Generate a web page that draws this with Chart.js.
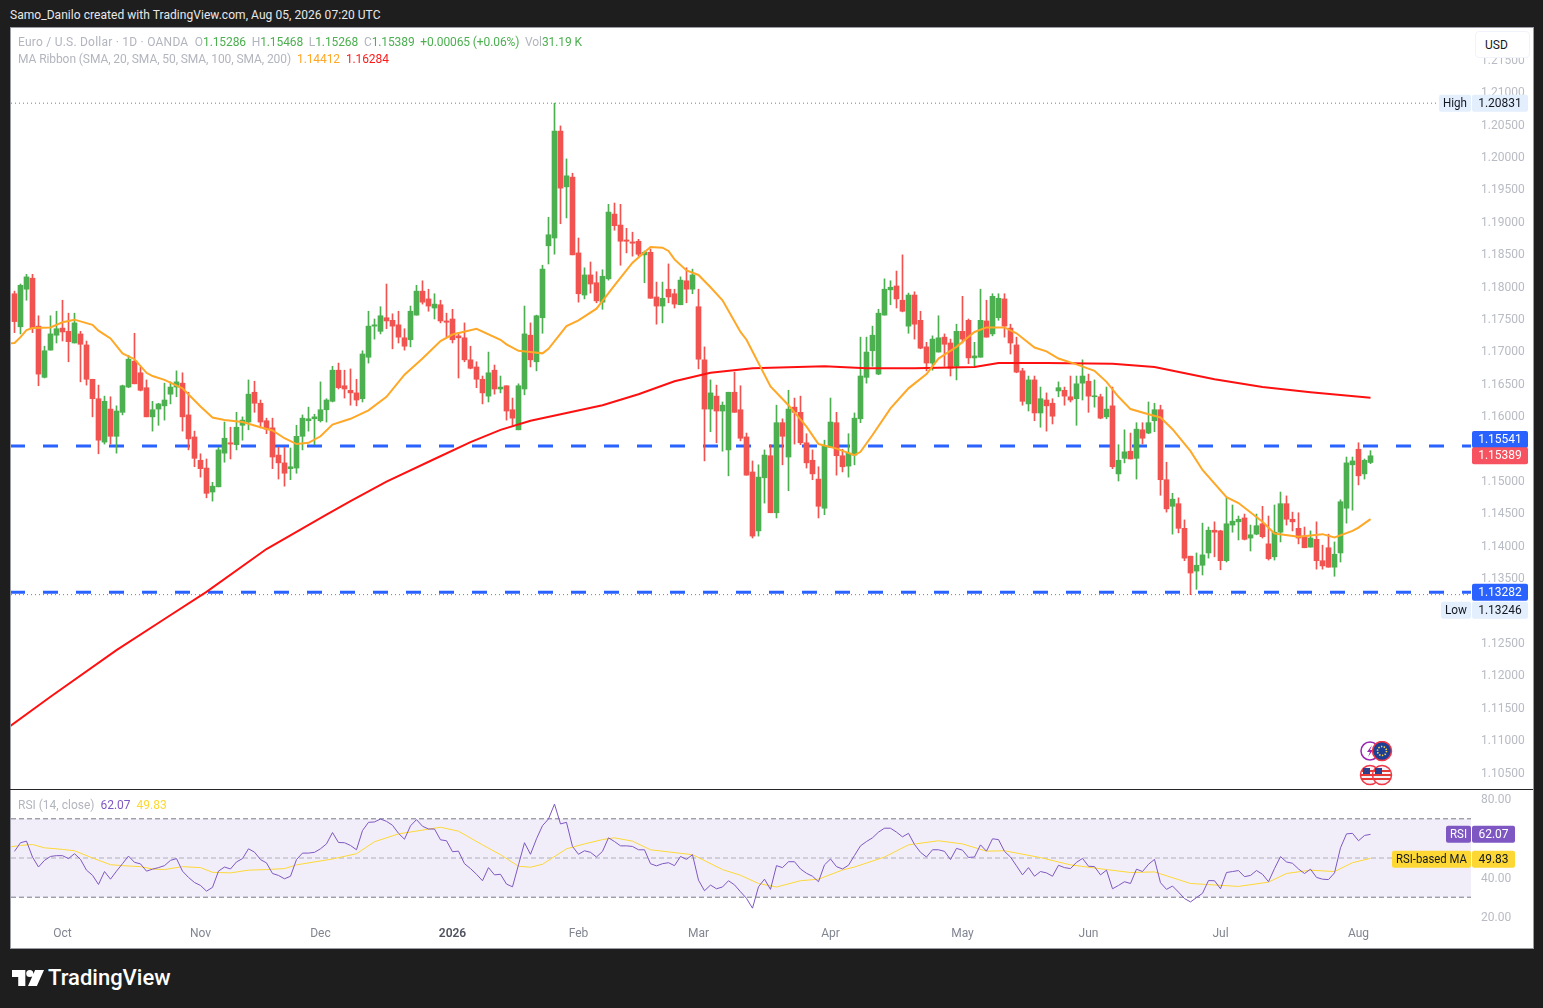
<!DOCTYPE html>
<html>
<head>
<meta charset="utf-8">
<title>EUR/USD</title>
<script src="https://cdn.jsdelivr.net/npm/chart.js"></script>
<style>
html, body { margin: 0; padding: 0; background: #1e1e1e; width: 1543px; height: 1008px; overflow: hidden; font-family: Roboto, sans-serif; font-size: 12px; }
#panel { position: absolute; left: 10px; top: 27px; width: 1522px; height: 920px; background: #fff; border: 1px solid #9a9da6; box-sizing: content-box; }
#divider { position: absolute; left: 10px; top: 789px; width: 1523px; height: 1px; background: #26262a; }
canvas { position: absolute; display: block; }
.txt { position: absolute; white-space: pre; line-height: 16px; }
.g { color: #4caf50; } .m { color: #b2b5be; }
#usd { position: absolute; left: 1475px; top: 31px; width: 53px; height: 25px; border: 1px solid #f0f3fa; border-radius: 4px; background: #fff; color: #131722; line-height: 26px; text-indent: 9px; box-sizing: content-box; }
.ev { position: absolute; }
</style>
</head>
<body>
<div id="panel"></div>
<canvas id="price" width="1521" height="761" style="left:11px;top:28px"></canvas>
<canvas id="rsi" width="1521" height="157" style="left:11px;top:790px"></canvas>
<div id="divider"></div>

<div class="txt" style="left:10px;top:7px;color:#e8e8e8;letter-spacing:0.05px">Samo_Danilo created with TradingView.com, Aug 05, 2026 07:20 UTC</div>
<div class="txt m" style="left:18px;top:34px"><span style="letter-spacing:0.23px">Euro / U.S. Dollar · 1D · OANDA  </span><span style="letter-spacing:-0.1px">O<span class="g">1.15286</span>  H<span class="g">1.15468</span>  L<span class="g">1.15268</span>  C<span class="g">1.15389</span>  <span class="g">+0.00065 (+0.06%)</span>  Vol<span class="g">31.19 K</span></span></div>
<div class="txt m" style="left:18px;top:51px"><span style="letter-spacing:-0.08px">MA Ribbon (SMA, 20, SMA, 50, SMA, 100, SMA, 200)</span>  <span style="color:#ffa726;letter-spacing:-0.1px">1.14412</span>  <span style="color:#ff1a1a;letter-spacing:-0.1px">1.16284</span></div>
<div class="txt m" style="left:18px;top:797px">RSI (14, close)  <span style="color:#7e57c2">62.07</span>  <span style="color:#fdd835">49.83</span></div>
<div id="usd">USD</div>

<svg class="ev" style="left:1359px;top:741px" width="36" height="46" viewBox="0 0 36 46">
  <circle cx="11" cy="10" r="9" fill="#fff" stroke="#9c27b0" stroke-width="1.5"/>
  <path d="M13 4 L8 11 L11 11 L9 16 L14 9 L11 9 Z" fill="#9c27b0"/>
  <circle cx="23" cy="10" r="9.5" fill="#1d3f94" stroke="#f23645" stroke-width="1.5"/>
  <circle cx="23" cy="10" r="4.5" fill="none" stroke="#ffd54f" stroke-width="1.6" stroke-dasharray="1.4 1.4"/>
  <circle cx="11" cy="34" r="9.5" fill="#f4f4f8" stroke="#f23645" stroke-width="1.5"/>
  <path d="M3 30 H19 M2 34 H20 M3 38 H19" stroke="#e53935" stroke-width="2"/>
  <rect x="4" y="27" width="7" height="6" fill="#2b3f8c"/>
  <circle cx="23" cy="34" r="9.5" fill="#f4f4f8" stroke="#f23645" stroke-width="1.5"/>
  <path d="M15 30 H31 M14 34 H32 M15 38 H31" stroke="#e53935" stroke-width="2"/>
  <rect x="16" y="27" width="7" height="6" fill="#2b3f8c"/>
</svg>

<svg class="ev" style="left:12px;top:970px" width="32" height="16" viewBox="0 0 36 18">
  <path d="M0 0 H15 V18 H7 V8 H0 Z M20 0 A4 4 0 1 1 20 8 A4 4 0 1 1 20 0 Z M26 0 H36 L28 18 H18 Z" fill="#fff"/>
</svg>
<div class="txt" style="left:48px;top:967px;font-size:22px;line-height:22px;font-weight:500;color:#fff">TradingView</div>

<script>
var opens = [
1.1789,1.1738,1.1796,1.1813,1.1739,1.1660,1.1702,1.1725,1.1736,1.1731,
1.1713,1.1727,1.1710,1.1657,1.1627,1.1560,1.1611,1.1569,1.1606,1.1645,
1.1685,1.1667,1.1644,1.1599,1.1611,1.1616,1.1634,1.1645,1.1651,1.1602,
1.1568,1.1532,1.1520,1.1483,1.1491,1.1543,1.1559,1.1556,1.1586,1.1591,
1.1637,1.1620,1.1593,1.1582,1.1540,1.1528,1.1519,1.1520,1.1569,1.1593,
1.1596,1.1593,1.1610,1.1623,1.1671,1.1647,1.1640,1.1636,1.1627,1.1691,
1.1739,1.1731,1.1752,1.1748,1.1741,1.1721,1.1718,1.1756,1.1793,1.1781,
1.1767,1.1772,1.1747,1.1750,1.1724,1.1721,1.1687,1.1676,1.1657,1.1631,
1.1671,1.1642,1.1647,1.1610,1.1579,1.1642,1.1725,1.1684,1.1752,1.1863,
1.1875,1.2040,1.1954,1.1969,1.1852,1.1787,1.1818,1.1806,1.1776,1.1812,
1.1912,1.1895,1.1872,1.1869,1.1870,1.1849,1.1853,1.1784,1.1770,1.1796,
1.1789,1.1772,1.1809,1.1796,1.1769,1.1687,1.1611,1.1631,1.1608,1.1548,
1.1637,1.1610,1.1568,1.1514,1.1423,1.1505,1.1539,1.1451,1.1590,1.1537,
1.1614,1.1606,1.1559,1.1532,1.1503,1.1458,1.1552,1.1590,1.1539,1.1523,
1.1540,1.1596,1.1660,1.1701,1.1665,1.1756,1.1795,1.1801,1.1779,1.1739,
1.1787,1.1748,1.1707,1.1682,1.1699,1.1722,1.1713,1.1677,1.1731,1.1748,
1.1690,1.1691,1.1747,1.1727,1.1752,1.1781,1.1736,1.1710,1.1670,1.1619,
1.1656,1.1605,1.1625,1.1620,1.1639,1.1640,1.1630,1.1627,1.1651,1.1654,
1.1630,1.1630,1.1599,1.1616,1.1511,1.1535,1.1546,1.1535,1.1579,1.1574,
1.1593,1.1610,1.1502,1.1461,1.1465,1.1427,1.1384,1.1361,1.1370,1.1389,
1.1424,1.1423,1.1377,1.1432,1.1437,1.1443,1.1412,1.1418,1.1434,1.1403,
1.1383,1.1421,1.1465,1.1441,1.1427,1.1415,1.1398,1.1410,1.1377,1.1397,
1.1367,1.1389,1.1458,1.1525,1.1549,1.1511,1.15286];

var highs = [
1.1793,1.1804,1.1819,1.1819,1.1755,1.1708,1.1755,1.1762,1.1779,1.1759,
1.1759,1.1731,1.1716,1.1657,1.1648,1.1631,1.1630,1.1616,1.1648,1.1694,
1.1728,1.1676,1.1656,1.1623,1.1620,1.1651,1.1653,1.1670,1.1667,1.1637,
1.1577,1.1542,1.1534,1.1498,1.1552,1.1591,1.1583,1.1606,1.1599,1.1656,
1.1654,1.1625,1.1597,1.1597,1.1552,1.1552,1.1551,1.1586,1.1602,1.1614,
1.1603,1.1653,1.1627,1.1677,1.1682,1.1671,1.1673,1.1657,1.1701,1.1762,
1.1750,1.1769,1.1804,1.1758,1.1762,1.1735,1.1770,1.1802,1.1809,1.1796,
1.1789,1.1779,1.1759,1.1765,1.1729,1.1744,1.1708,1.1684,1.1662,1.1699,
1.1679,1.1662,1.1647,1.1628,1.1650,1.1770,1.1744,1.1756,1.1833,1.1907,
1.20831,1.2048,1.1997,1.1975,1.1875,1.1829,1.1838,1.1823,1.1826,1.1927,
1.1929,1.1927,1.1890,1.1884,1.1873,1.1855,1.1858,1.1807,1.1807,1.1835,
1.1796,1.1815,1.1829,1.1827,1.1796,1.1707,1.1656,1.1648,1.1622,1.1637,
1.1668,1.1647,1.1574,1.1531,1.1525,1.1548,1.1556,1.1617,1.1596,1.1640,
1.1628,1.1631,1.1573,1.1548,1.1522,1.1563,1.1628,1.1606,1.1549,1.1573,
1.1605,1.1722,1.1722,1.1739,1.1765,1.1812,1.1809,1.1824,1.1849,1.1790,
1.1792,1.1762,1.1714,1.1724,1.1755,1.1727,1.1719,1.1742,1.1785,1.1750,
1.1714,1.1796,1.1779,1.1789,1.1789,1.1789,1.1742,1.1722,1.1674,1.1662,
1.1662,1.1645,1.1636,1.1627,1.1653,1.1645,1.1662,1.1662,1.1687,1.1665,
1.1656,1.1634,1.1645,1.1645,1.1556,1.1579,1.1574,1.1590,1.1590,1.1622,
1.1620,1.1617,1.1529,1.1481,1.1474,1.1440,1.1384,1.1389,1.1435,1.1429,
1.1437,1.1424,1.1474,1.1463,1.1446,1.1449,1.1432,1.1449,1.1461,1.1446,
1.1463,1.1483,1.1477,1.1452,1.1451,1.1429,1.1423,1.1437,1.1401,1.1418,
1.1406,1.1471,1.1537,1.1537,1.1559,1.1534,1.15468];

var lows = [
1.1729,1.1727,1.1779,1.1729,1.1647,1.1659,1.1702,1.1713,1.1716,1.1684,
1.1713,1.1653,1.1648,1.1599,1.1542,1.1557,1.1557,1.1543,1.1602,1.1644,
1.1650,1.1639,1.1599,1.1577,1.1586,1.1594,1.1619,1.1630,1.1577,1.1548,
1.1522,1.1506,1.1474,1.1469,1.1491,1.1529,1.1534,1.1548,1.1563,1.1579,
1.1606,1.1582,1.1573,1.1519,1.1503,1.1492,1.1502,1.1512,1.1548,1.1577,
1.1556,1.1591,1.1591,1.1622,1.1642,1.1628,1.1617,1.1616,1.1622,1.1682,
1.1719,1.1727,1.1735,1.1704,1.1713,1.1702,1.1707,1.1756,1.1773,1.1762,
1.1750,1.1744,1.1722,1.1713,1.1659,1.1684,1.1673,1.1644,1.1619,1.1622,
1.1634,1.1636,1.1594,1.1586,1.1579,1.1633,1.1676,1.1670,1.1728,1.1835,
1.1850,1.1897,1.1906,1.1849,1.1776,1.1781,1.1790,1.1775,1.1765,1.1810,
1.1887,1.1833,1.1852,1.1847,1.1847,1.1806,1.1782,1.1742,1.1744,1.1775,
1.1767,1.1772,1.1775,1.1789,1.1673,1.1531,1.1576,1.1559,1.1546,1.1508,
1.1606,1.1562,1.1509,1.1412,1.1415,1.1466,1.1451,1.1443,1.1525,1.1485,
1.1557,1.1556,1.1520,1.1502,1.1443,1.1448,1.1552,1.1509,1.1514,1.1506,
1.1525,1.1590,1.1651,1.1677,1.1664,1.1756,1.1772,1.1767,1.1761,1.1728,
1.1719,1.1704,1.1670,1.1671,1.1699,1.1677,1.1662,1.1656,1.1713,1.1681,
1.1677,1.1691,1.1722,1.1724,1.1748,1.1722,1.1696,1.1667,1.1617,1.1608,
1.1593,1.1583,1.1577,1.1588,1.1630,1.1617,1.1622,1.1586,1.1625,1.1606,
1.1614,1.1596,1.1596,1.1519,1.1500,1.1528,1.1534,1.1503,1.1557,1.1573,
1.1576,1.1478,1.1452,1.1418,1.1420,1.1377,1.13246,1.1333,1.1355,1.1381,
1.1383,1.1363,1.1375,1.1421,1.1409,1.1409,1.1392,1.1417,1.1412,1.1378,
1.1378,1.1406,1.1432,1.1423,1.1403,1.1397,1.1398,1.1364,1.1364,1.1367,
1.1353,1.1375,1.1435,1.1455,1.1494,1.1503,1.15268];

var closes = [
1.1746,1.1802,1.1815,1.1736,1.1665,1.1701,1.1727,1.1735,1.1730,1.1715,
1.1744,1.1711,1.1657,1.1627,1.1563,1.1623,1.1569,1.1608,1.1647,1.1688,
1.1650,1.1640,1.1599,1.1610,1.1619,1.1625,1.1645,1.1653,1.1599,1.1565,
1.1535,1.1519,1.1481,1.1492,1.1548,1.1566,1.1557,1.1583,1.1594,1.1634,
1.1620,1.1591,1.1580,1.1537,1.1528,1.1512,1.1522,1.1569,1.1597,1.1596,
1.1599,1.1610,1.1625,1.1671,1.1644,1.1642,1.1636,1.1625,1.1696,1.1739,
1.1741,1.1755,1.1747,1.1739,1.1722,1.1708,1.1762,1.1793,1.1776,1.1770,
1.1773,1.1747,1.1745,1.1718,1.1721,1.1687,1.1674,1.1657,1.1636,1.1667,
1.1642,1.1645,1.1608,1.1597,1.1647,1.1727,1.1687,1.1755,1.1827,1.1880,
1.2040,1.1952,1.1971,1.1849,1.1789,1.1818,1.1804,1.1778,1.1816,1.1915,
1.1894,1.1870,1.1870,1.1867,1.1850,1.1853,1.1782,1.1770,1.1782,1.1784,
1.1773,1.1810,1.1796,1.1818,1.1688,1.1611,1.1636,1.1608,1.1617,1.1637,
1.1606,1.1566,1.1509,1.1415,1.1506,1.1540,1.1451,1.1590,1.1569,1.1611,
1.1606,1.1559,1.1528,1.1511,1.1461,1.1554,1.1591,1.1539,1.1522,1.1543,
1.1597,1.1662,1.1699,1.1725,1.1759,1.1796,1.1799,1.1781,1.1762,1.1787,
1.1742,1.1705,1.1682,1.1719,1.1721,1.1711,1.1674,1.1731,1.1719,1.1690,
1.1693,1.1748,1.1722,1.1785,1.1782,1.1739,1.1713,1.1668,1.1623,1.1656,
1.1605,1.1627,1.1616,1.1600,1.1644,1.1631,1.1625,1.1650,1.1662,1.1631,
1.1631,1.1597,1.1611,1.1522,1.1532,1.1545,1.1534,1.1580,1.1566,1.1590,
1.1610,1.1502,1.1457,1.1472,1.1427,1.1381,1.1358,1.1370,1.1386,1.1424,
1.1421,1.1377,1.1434,1.1438,1.1441,1.1410,1.1417,1.1431,1.1414,1.1380,
1.1421,1.1465,1.1441,1.1437,1.1412,1.1397,1.1412,1.1377,1.1369,1.1367,
1.1387,1.1468,1.1528,1.1531,1.1508,1.1532,1.15389];

// sma lines at the bends, x is the bar number
var ma20Days = [-1,0,1,2,3,6,8,10,13,14,16,18,20,22,23,25,28,31,33,35,38,41,43,45,47,49,51,53,56,59,62,65,68,71,73,77,81,82,84,86,88,89,92,94,97,100,103,106,108,109,110,112,114,116,118,121,122,126,129,132,134,137,140,141,143,146,149,152,154,157,160,162,165,167,170,172,174,177,180,182,184,186,189,191,193,196,198,202,204,208,210,214,218,220,223,224,226];
var ma20Values = [1.1712,1.1713,1.1722,1.1733,1.1736,1.1737,1.1745,1.1749,1.1741,1.1732,1.1720,1.1697,1.1688,1.1667,1.1662,1.1656,1.1643,1.1615,1.1598,1.1594,1.1591,1.1583,1.1578,1.1566,1.1557,1.1559,1.1569,1.1587,1.1596,1.1609,1.1630,1.1664,1.1689,1.1716,1.1726,1.1735,1.1718,1.1711,1.1701,1.1699,1.1697,1.1704,1.1739,1.1748,1.1766,1.1802,1.1837,1.1861,1.1860,1.1855,1.1842,1.1825,1.1818,1.1799,1.1779,1.1730,1.1718,1.1646,1.1617,1.1584,1.1557,1.1550,1.1540,1.1545,1.1571,1.1612,1.1643,1.1665,1.1689,1.1707,1.1730,1.1737,1.1737,1.1728,1.1706,1.1700,1.1689,1.1680,1.1670,1.1653,1.1630,1.1611,1.1603,1.1598,1.1580,1.1546,1.1517,1.1475,1.1466,1.1437,1.1419,1.1414,1.1418,1.1413,1.1423,1.1428,1.14412];

var ma200Days = [-1,6,17,25,32,42,52,56,62,70,76,81,86,98,104,110,116,123,135,142,150,160,164,172,183,190,200,208,216,226];
var ma200Values = [1.1120,1.1167,1.1239,1.1287,1.1329,1.1395,1.1448,1.1469,1.1499,1.1534,1.1560,1.1579,1.1593,1.1617,1.1634,1.1654,1.1667,1.1674,1.1677,1.1674,1.1674,1.1676,1.1682,1.1682,1.1681,1.1676,1.1657,1.1645,1.1637,1.16284];

var rsiValues = [
53.4,57.8,58.6,50.5,45.4,48.8,50.8,51.2,51.2,49.7,
52.2,49.3,43.8,41.2,36.5,43.1,39.2,43.3,47.1,51.0,
47.8,47.0,43.3,44.3,45.1,46.1,48.8,49.7,43.3,40.1,
37.5,36.0,33.1,35.0,43.3,45.4,44.4,48.0,49.7,54.7,
53.0,49.2,47.5,42.1,41.1,39.4,40.7,49.2,52.5,52.5,
52.9,54.7,57.2,63.0,57.9,57.8,56.4,54.2,64.0,68.2,
68.4,69.9,68.7,66.7,62.6,59.6,66.4,69.6,66.2,64.8,
64.8,59.3,58.8,53.2,53.5,47.1,44.6,41.7,38.4,45.1,
41.4,41.7,36.7,35.3,46.5,57.8,51.9,59.8,66.5,69.9,
77.5,67.4,68.2,55.9,51.9,53.7,52.9,50.5,53.4,60.3,
58.4,56.2,56.2,55.9,54.2,54.2,47.1,46.0,47.1,47.6,
46.1,50.8,49.3,51.7,38.7,33.3,36.2,34.3,35.2,38.4,
36.3,32.8,29.4,24.4,35.3,39.2,34.0,46.1,45.1,48.1,
48.1,44.4,42.2,40.7,37.9,46.5,49.5,45.6,44.4,46.3,
51.3,56.2,58.4,60.3,63.2,65.2,65.2,63.2,60.8,62.6,
56.9,52.9,50.5,54.2,54.2,53.4,49.2,54.9,54.0,50.3,
50.5,56.7,53.5,59.8,59.4,53.4,50.5,46.0,41.4,45.1,
40.7,43.1,42.4,40.7,46.3,45.1,44.6,47.8,49.8,45.8,
45.6,41.4,43.8,34.3,36.0,37.9,37.0,44.3,43.1,46.8,
49.3,37.4,34.0,35.7,32.6,29.3,27.6,29.8,32.0,38.5,
38.4,34.3,42.6,43.1,43.6,40.5,41.1,43.6,41.7,37.9,
44.6,50.7,48.0,47.3,44.4,42.1,44.3,40.1,39.2,39.0,
42.4,55.2,62.3,62.6,58.8,61.5,62.07];

var rsiMaDays = [-1,1,3,5,8,10,13,16,18,21,23,25,28,31,33,36,39,42,45,47,53,57,60,64,71,74,78,81,84,86,88,92,95,98,100,103,106,111,113,118,121,124,127,131,134,138,140,145,149,154,158,162,165,171,176,182,186,190,196,204,209,212,216,220,223,226];
var rsiMaValues = [55.6,56.4,56.9,55.2,54.4,53.7,50.0,46.6,46.1,45.6,44.4,44.1,45.6,45.1,42.7,42.4,43.8,44.1,44.6,46.5,49.5,52.2,58.3,62.3,65.7,63.7,56.7,51.7,45.8,45.3,46.8,54.7,57.2,59.4,60.3,58.6,54.2,52.4,51.7,44.1,41.2,37.0,35.2,38.4,39.2,43.9,45.4,50.5,56.7,58.8,57.2,53.5,53.7,50.2,46.5,44.1,42.6,42.9,37.0,35.5,37.7,42.1,43.8,43.1,47.6,49.83];

var monthDays = [8,31,51,73,94,114,136,158,179,201,224];
var monthLabels = ['Oct','Nov','Dec','2026','Feb','Mar','Apr','May','Jun','Jul','Aug'];

var lastPrice = 1.15389;
var levelUpper = 1.15541;
var levelLower = 1.13282;
var seriesHigh = 1.20831;
var seriesLow = 1.13246;
var rsiLast = 62.07;
var rsiMaLast = 49.83;

var green = '#4caf50';
var red = '#f05350';
var tickGrey = '#b8bbc3';
var fontName = 'Roboto, sans-serif';
var xMin = -0.5833;
var xMax = 242.75;

function points(xs, ys) {
    return xs.map(function (x, i) { return {x: x, y: ys[i]}; });
}
function flat(v) {
    return [{x: xMin, y: v}, {x: xMax, y: v}];
}
function fitY(s) {
    s.width = 61;
    s.paddingTop = 0;
    s.paddingBottom = 0;
}
function tag(ctx, x, y, w, h, text, bg, fg) {
    ctx.save();
    ctx.fillStyle = bg;
    ctx.beginPath();
    ctx.roundRect(x, y, w, h, 2);
    ctx.fill();
    ctx.fillStyle = fg;
    ctx.font = '12px ' + fontName;
    ctx.textAlign = 'center';
    ctx.textBaseline = 'middle';
    ctx.fillText(text, x + w / 2, y + h / 2 + 0.5, w - 8);
    ctx.restore();
}

var candleColors = closes.map(function (c, i) { return c >= opens[i] ? green : red; });
var wicks = highs.map(function (h, i) { return {x: i, y: [lows[i], h]}; });
var bodies = opens.map(function (o, i) { return {x: i, y: [Math.min(o, closes[i]), Math.max(o, closes[i])]}; });

var priceTags = {
    id: 'priceTags',
    afterDraw: function (chart) {
        var c = chart.ctx, y = chart.scales.y;
        var yHigh = y.getPixelForValue(seriesHigh);
        tag(c, 1428, yHigh - 8.5, 32, 17, 'High', '#e3effd', '#131722');
        tag(c, 1461, yHigh - 8.5, 56, 17, seriesHigh.toFixed(5), '#e3effd', '#131722');
        tag(c, 1461, y.getPixelForValue(levelUpper) - 15, 56, 17, levelUpper.toFixed(5), '#2962ff', '#fff');
        tag(c, 1461, y.getPixelForValue(lastPrice) - 8.5, 56, 17, lastPrice.toFixed(5), '#f7525f', '#fff');
        tag(c, 1461, y.getPixelForValue(levelLower) - 8.5, 56, 17, levelLower.toFixed(5), '#2962ff', '#fff');
        var yLow = y.getPixelForValue(seriesLow);
        tag(c, 1430, yLow + 7, 30, 17, 'Low', '#e3effd', '#131722');
        tag(c, 1461, yLow + 7, 56, 17, seriesLow.toFixed(5), '#e3effd', '#131722');
    }
};

new Chart(document.getElementById('price').getContext('2d'), {
    type: 'bar',
    data: {
        datasets: [
            {type: 'line', data: flat(levelUpper), borderColor: '#2962ff', borderWidth: 3, borderDash: [15, 18], borderDashOffset: 1, pointRadius: 0, order: 6},
            {type: 'line', data: flat(levelLower), borderColor: '#2962ff', borderWidth: 3, borderDash: [15, 18], borderDashOffset: 1, pointRadius: 0, order: 6},
            {type: 'line', data: flat(seriesHigh), borderColor: '#787b86', borderWidth: 1, borderDash: [1, 3], pointRadius: 0, order: 6},
            {type: 'line', data: flat(seriesLow), borderColor: '#787b86', borderWidth: 1, borderDash: [1, 3], pointRadius: 0, order: 6},
            {data: wicks, backgroundColor: candleColors, barThickness: 1, grouped: false, order: 4},
            {data: bodies, backgroundColor: candleColors, barThickness: 5, minBarLength: 1, grouped: false, order: 3},
            {type: 'line', data: points(ma200Days, ma200Values), borderColor: '#ff1010', borderWidth: 2, pointRadius: 0, tension: 0, order: 2},
            {type: 'line', data: points(ma20Days, ma20Values), borderColor: '#ffa726', borderWidth: 2, pointRadius: 0, tension: 0, order: 1}
        ]
    },
    options: {
        responsive: false,
        animation: false,
        devicePixelRatio: 1,
        events: [],
        layout: {autoPadding: false},
        plugins: {legend: {display: false}, tooltip: {enabled: false}},
        scales: {
            x: {type: 'linear', display: false, offset: false, min: xMin, max: xMax, grid: {display: false}},
            y: {
                position: 'right',
                min: 1.10247,
                max: 1.21991,
                afterFit: fitY,
                grid: {display: false, drawTicks: false},
                border: {display: false},
                ticks: {
                    stepSize: 0.005,
                    includeBounds: false,
                    padding: 10,
                    labelOffset: 1,
                    color: tickGrey,
                    font: {family: fontName, size: 12},
                    callback: function (v) { return v.toFixed(5); }
                }
            }
        }
    },
    plugins: [priceTags]
});

var rsiTags = {
    id: 'rsiTags',
    afterDraw: function (chart) {
        var c = chart.ctx, y = chart.scales.y;
        var yRsi = y.getPixelForValue(rsiLast);
        tag(c, 1435, yRsi - 8.5, 25, 17, 'RSI', '#7e57c2', '#fff');
        tag(c, 1461, yRsi - 8.5, 43, 17, rsiLast.toFixed(2), '#7e57c2', '#fff');
        var yMa = y.getPixelForValue(rsiMaLast);
        tag(c, 1381, yMa - 8.5 + 1, 79, 17, 'RSI-based MA', '#fdd835', '#131722');
        tag(c, 1461, yMa - 8.5 + 1, 43, 17, rsiMaLast.toFixed(2), '#fdd835', '#131722');
    }
};

new Chart(document.getElementById('rsi').getContext('2d'), {
    type: 'line',
    data: {
        datasets: [
            {data: flat(70), borderColor: '#787b86', borderWidth: 1, borderDash: [5, 3], pointRadius: 0, fill: '+1', backgroundColor: 'rgba(126,87,194,0.1)', order: 5},
            {data: flat(30), borderColor: '#787b86', borderWidth: 1, borderDash: [5, 3], pointRadius: 0, order: 5},
            {data: flat(50), borderColor: 'rgba(120,123,134,0.55)', borderWidth: 1, borderDash: [5, 3], pointRadius: 0, order: 5},
            {data: points(rsiMaDays, rsiMaValues), borderColor: '#fdd835', borderWidth: 1, pointRadius: 0, tension: 0, order: 2},
            {data: rsiValues.map(function (v, i) { return {x: i, y: v}; }), borderColor: '#7e57c2', borderWidth: 1, pointRadius: 0, tension: 0, order: 1}
        ]
    },
    options: {
        responsive: false,
        animation: false,
        devicePixelRatio: 1,
        events: [],
        layout: {autoPadding: false},
        plugins: {legend: {display: false}, tooltip: {enabled: false}},
        scales: {
            x: {
                type: 'linear',
                min: xMin,
                max: xMax,
                afterFit: function (s) { s.height = 26; s.paddingLeft = 0; s.paddingRight = 0; },
                afterBuildTicks: function (s) {
                    s.ticks = monthDays.map(function (d) { return {value: d}; });
                },
                grid: {display: false, drawTicks: false},
                border: {display: false},
                ticks: {
                    autoSkip: false,
                    maxRotation: 0,
                    padding: 6,
                    color: function (c) { return c.tick && c.tick.label === '2026' ? '#50535e' : '#808590'; },
                    font: function (c) {
                        return {family: fontName, size: 12, weight: c.tick && c.tick.label === '2026' ? '600' : '400'};
                    },
                    callback: function (v, i) { return monthLabels[i]; }
                }
            },
            y: {
                position: 'right',
                min: 17.86,
                max: 84.7,
                afterFit: fitY,
                grid: {display: false, drawTicks: false},
                border: {display: false},
                ticks: {
                    stepSize: 20,
                    includeBounds: false,
                    padding: 10,
                    labelOffset: 1,
                    color: tickGrey,
                    font: {family: fontName, size: 12},
                    callback: function (v) { return v.toFixed(2); }
                }
            }
        }
    },
    plugins: [rsiTags]
});
</script>
</body>
</html>
